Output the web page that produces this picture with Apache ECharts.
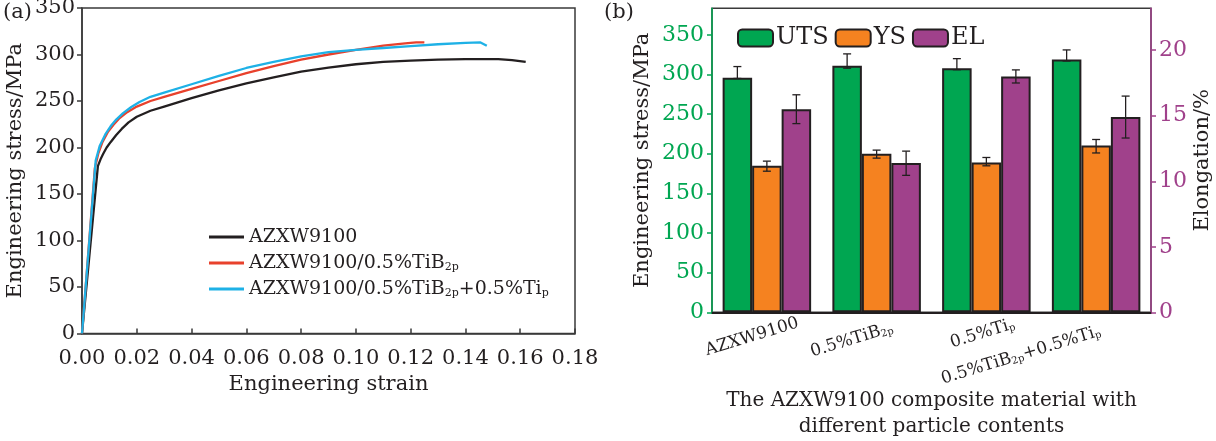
<!DOCTYPE html>
<html lang="en">
<head>
    <meta charset="UTF-8">
    <title>AZXW9100 tensile properties</title>
    <script src="https://cdn.jsdelivr.net/npm/echarts@6/dist/echarts.min.js"></script>
    <style>
        html, body { margin: 0; padding: 0; background: #fff; }
        #main { width: 1216px; height: 441px; }
    </style>
</head>
<body>
<div id="main"></div>
<script>
  // (a) stress-strain curves
  var strainBase = [0, 0.0058, 0.0068, 0.0077, 0.009, 0.0105, 0.0125, 0.0145, 0.017, 0.02, 0.025, 0.03, 0.04, 0.05, 0.06, 0.07, 0.08, 0.09, 0.10, 0.11, 0.12, 0.13, 0.14, 0.152, 0.157, 0.162];
  var stressBase = [0, 180, 187.5, 193, 200, 206, 213.5, 220, 227, 233, 239.5, 244, 253, 261.5, 269, 275.5, 281.5, 286, 289.5, 292, 293.5, 294.5, 295, 295, 294, 292];
  var strainTiB = [0, 0.0047, 0.006, 0.0075, 0.0095, 0.0115, 0.0135, 0.0165, 0.02, 0.025, 0.03, 0.04, 0.05, 0.06, 0.07, 0.08, 0.09, 0.10, 0.11, 0.118, 0.122, 0.125];
  var stressTiB = [0, 178, 194, 206, 217, 224.5, 231, 238, 244, 250, 254.5, 263, 271.5, 280, 287.5, 294.5, 300, 305, 309.5, 312, 313, 313];
  var strainTiBTi = [0, 0.005, 0.0065, 0.0085, 0.0105, 0.0125, 0.015, 0.018, 0.021, 0.025, 0.03, 0.04, 0.05, 0.06, 0.07, 0.08, 0.09, 0.10, 0.11, 0.12, 0.13, 0.14, 0.1455, 0.1478];
  var stressTiBTi = [0, 186, 202, 214, 223, 230, 237, 243.5, 249, 254.5, 259, 268, 277, 285.5, 292, 298, 302.5, 305, 307, 309, 311, 312.5, 313, 309.5];
  var curveNames = ['AZXW9100', 'AZXW9100/0.5%TiB2p', 'AZXW9100/0.5%TiB2p+0.5%Tip'];
  var curveLabels = ['AZXW9100', 'AZXW9100/0.5%TiB{sub|2p}', 'AZXW9100/0.5%TiB{sub|2p}+0.5%Ti{sub|p}'];

  // (b) bar chart
  var categories = ['AZXW9100', '0.5%TiB2p', '0.5%Tip', '0.5%TiB2p+0.5%Tip'];
  var categoryLabels = ['AZXW9100', '0.5%TiB{sub|2p}', '0.5%Ti{sub|p}', '0.5%TiB{sub|2p}+0.5%Ti{sub|p}'];
  var uts = [296, 311, 308, 319];
  var utsLow = [295, 308, 306, 317];
  var utsHigh = [310, 326, 320, 331];
  var ys = [185, 200, 189, 210.5];
  var ysLow = [178, 194.5, 184.8, 201];
  var ysHigh = [190.7, 204.6, 195.3, 218];
  var el = [15.5, 11.4, 18.0, 14.9];
  var elLow = [14.4, 10.45, 17.5, 13.3];
  var elHigh = [16.6, 12.3, 18.5, 16.5];
  var stressTicks = [0, 50, 100, 150, 200, 250, 300, 350];

  var FONT = 'DejaVu Serif';
  var GREEN = '#00a651';
  var ORANGE = '#f58220';
  var PURPLE = '#a0418b';
  var LINE_COLORS = ['#231f20', '#e8412c', '#1eb1e6'];
  var BAR_W = 29.5;
  // push rotated labels along their own direction
  var labelSpacer = [31, 52, 8, 157];

  function pairs(xs, ys) {
    var res = [];
    for (var i = 0; i < xs.length; i++) {
      res.push([xs[i], ys[i]]);
    }
    return res;
  }

  function ranges(lo, hi) {
    var res = [];
    for (var i = 0; i < lo.length; i++) {
      res.push([i, lo[i], hi[i]]);
    }
    return res;
  }

  function errorBar(offset) {
    return function(params, api) {
      var pLo = api.coord([api.value(0), api.value(1)]);
      var pHi = api.coord([api.value(0), api.value(2)]);
      var cx = pLo[0] + offset;
      var st = {stroke: '#231f20', lineWidth: 1.3};
      return {
        type: 'group',
        children: [
          {type: 'line', shape: {x1: cx, y1: pHi[1], x2: cx, y2: pLo[1]}, style: st},
          {type: 'line', shape: {x1: cx - 4, y1: pHi[1], x2: cx + 4, y2: pHi[1]}, style: st},
          {type: 'line', shape: {x1: cx - 4, y1: pLo[1], x2: cx + 4, y2: pLo[1]}, style: st}
        ]
      };
    };
  }

  function curve(idx, xs, ys) {
    return {
      name: curveNames[idx], type: 'line', xAxisIndex: 0, yAxisIndex: 0, data: pairs(xs, ys),
      showSymbol: false, smooth: false,
      lineStyle: {color: LINE_COLORS[idx], width: 2.3, join: 'round'}, itemStyle: {color: LINE_COLORS[idx]}
    };
  }

  var subRich = {
    sub: {fontFamily: FONT, fontSize: 11, verticalAlign: 'bottom', lineHeight: 8, color: '#231f20'}
  };
  var catRich = {sub: {fontFamily: FONT, fontSize: 10, verticalAlign: 'bottom', lineHeight: 7, color: '#231f20'}};
  labelSpacer.forEach(function(w, i) {
    catRich['gap' + i] = {width: w, fontSize: 10};
  });

  var chart = echarts.init(document.getElementById('main'));
  var option = {
    animation: false,
    backgroundColor: '#fff',
    title: [
      {text: '(a)', left: -2, top: -3, textStyle: {fontFamily: FONT, fontSize: 21, fontWeight: 'normal', color: '#231f20'}},
      {text: '(b)', left: 599, top: -3, textStyle: {fontFamily: FONT, fontSize: 21, fontWeight: 'normal', color: '#231f20'}}
    ],
    legend: [
      {
        data: curveNames,
        orient: 'vertical',
        left: 209,
        top: 227,
        padding: 0,
        icon: 'rect',
        itemWidth: 35,
        itemHeight: 3,
        itemGap: 6,
        formatter: function(name) {
          return curveLabels[curveNames.indexOf(name)];
        },
        textStyle: {fontFamily: FONT, fontSize: 19, lineHeight: 20, color: '#231f20', rich: subRich}
      },
      {
        data: ['UTS', 'YS', 'EL'],
        left: 737,
        top: 26,
        padding: 0,
        itemWidth: 35,
        itemHeight: 17,
        itemGap: 6,
        textStyle: {fontFamily: FONT, fontSize: 24, color: '#231f20', padding: [0, 0, 0, -2]}
      }
    ],
    grid: [
      {left: 82, right: 641, top: 8, bottom: 107.5, outerBoundsMode: 'none',
        show: true, borderColor: '#3a3a3a', borderWidth: 1.5},
      {left: 712, right: 65, top: 8.3, bottom: 128.7, outerBoundsMode: 'none',
        show: true, borderColor: '#3a3a3a', borderWidth: 1.5}
    ],
    xAxis: [
      {
        gridIndex: 0,
        type: 'value',
        min: 0,
        max: 0.18,
        interval: 0.02,
        name: 'Engineering strain',
        nameLocation: 'middle',
        nameGap: 41,
        nameMoveOverlap: false,
        nameTextStyle: {fontFamily: FONT, fontSize: 21, color: '#231f20'},
        axisLine: {lineStyle: {color: '#3a3a3a', width: 1.5}},
        axisTick: {inside: true, length: 5, lineStyle: {color: '#3a3a3a', width: 1.5}},
        axisLabel: {
          margin: 15,
          fontFamily: FONT,
          fontSize: 21,
          color: '#231f20',
          formatter: function(v) { return v.toFixed(2); }
        },
        splitLine: {show: false}
      },
      {
        gridIndex: 1,
        type: 'category',
        data: categories,
        name: 'The AZXW9100 composite material with\ndifferent particle contents',
        nameLocation: 'middle',
        nameGap: 75,
        nameMoveOverlap: false,
        nameTextStyle: {fontFamily: FONT, fontSize: 20, lineHeight: 26, color: '#231f20'},
        axisLine: {lineStyle: {color: '#231f20', width: 2}},
        axisTick: {show: false},
        axisLabel: {
          interval: 0,
          rotate: 17,
          align: 'center',
          verticalAlign: 'middle',
          margin: 20,
          fontFamily: FONT,
          fontSize: 17,
          color: '#231f20',
          formatter: function(v, i) {
            return categoryLabels[i] + '{gap' + i + '|\u00a0}';
          },
          rich: catRich
        }
      }
    ],
    yAxis: [
      {
        gridIndex: 0,
        type: 'value',
        min: 0,
        max: 350,
        interval: 50,
        name: 'Engineering stress/MPa',
        nameLocation: 'middle',
        nameRotate: 90,
        nameGap: 56,
        nameMoveOverlap: false,
        nameTextStyle: {fontFamily: FONT, fontSize: 21, color: '#231f20'},
        axisLine: {show: true, lineStyle: {color: '#3a3a3a', width: 1.5}},
        axisTick: {show: true, length: 5, lineStyle: {color: '#3a3a3a', width: 1.5}},
        axisLabel: {margin: 7, fontFamily: FONT, fontSize: 21, color: '#231f20'},
        splitLine: {show: false}
      },
      {
        gridIndex: 1,
        type: 'value',
        position: 'left',
        min: 0,
        max: 383.5,
        interval: 50,
        name: 'Engineering stress/MPa',
        nameLocation: 'middle',
        nameRotate: 90,
        nameGap: 59,
        nameMoveOverlap: false,
        nameTextStyle: {fontFamily: FONT, fontSize: 21, color: '#231f20'},
        axisLine: {show: true, lineStyle: {color: GREEN, width: 1.5}},
        axisTick: {show: true, length: 5, lineStyle: {color: GREEN, width: 1.5}},
        axisLabel: {
          margin: 8, fontFamily: FONT, fontSize: 22, color: GREEN, showMaxLabel: false,
          formatter: function(v) { return stressTicks.indexOf(v) >= 0 ? String(v) : ''; }
        },
        splitLine: {show: false}
      },
      {
        gridIndex: 1,
        type: 'value',
        position: 'right',
        min: 0,
        max: 23.2,
        interval: 5,
        name: 'Elongation/%',
        nameLocation: 'middle',
        nameRotate: 90,
        nameGap: 41,
        nameMoveOverlap: false,
        nameTextStyle: {fontFamily: FONT, fontSize: 21, color: '#231f20'},
        axisLine: {show: true, lineStyle: {color: PURPLE, width: 1.5}},
        axisTick: {show: true, length: 5, lineStyle: {color: PURPLE, width: 1.5}},
        axisLabel: {margin: 8, fontFamily: FONT, fontSize: 22, color: PURPLE, showMaxLabel: false},
        splitLine: {show: false}
      }
    ],
    series: [
      curve(0, strainBase, stressBase),
      curve(1, strainTiB, stressTiB),
      curve(2, strainTiBTi, stressTiBTi),

      {name: 'UTS', type: 'bar', xAxisIndex: 1, yAxisIndex: 1, data: uts, barWidth: BAR_W, barGap: '0%',
        itemStyle: {color: GREEN, borderColor: '#231f20', borderWidth: 2}},
      {name: 'YS', type: 'bar', xAxisIndex: 1, yAxisIndex: 1, data: ys, barWidth: BAR_W, barGap: '0%',
        itemStyle: {color: ORANGE, borderColor: '#231f20', borderWidth: 2}},
      {name: 'EL', type: 'bar', xAxisIndex: 1, yAxisIndex: 2, data: el, barWidth: BAR_W, barGap: '0%',
        itemStyle: {color: PURPLE, borderColor: '#231f20', borderWidth: 2}},

      {type: 'custom', xAxisIndex: 1, yAxisIndex: 1, data: ranges(utsLow, utsHigh), renderItem: errorBar(-BAR_W),
        encode: {x: 0, y: [1, 2]}, z: 5, silent: true},
      {type: 'custom', xAxisIndex: 1, yAxisIndex: 1, data: ranges(ysLow, ysHigh), renderItem: errorBar(0),
        encode: {x: 0, y: [1, 2]}, z: 5, silent: true},
      {type: 'custom', xAxisIndex: 1, yAxisIndex: 2, data: ranges(elLow, elHigh), renderItem: errorBar(BAR_W),
        encode: {x: 0, y: [1, 2]}, z: 5, silent: true}
    ]
  };
  chart.setOption(option);
</script>
</body>
</html>
